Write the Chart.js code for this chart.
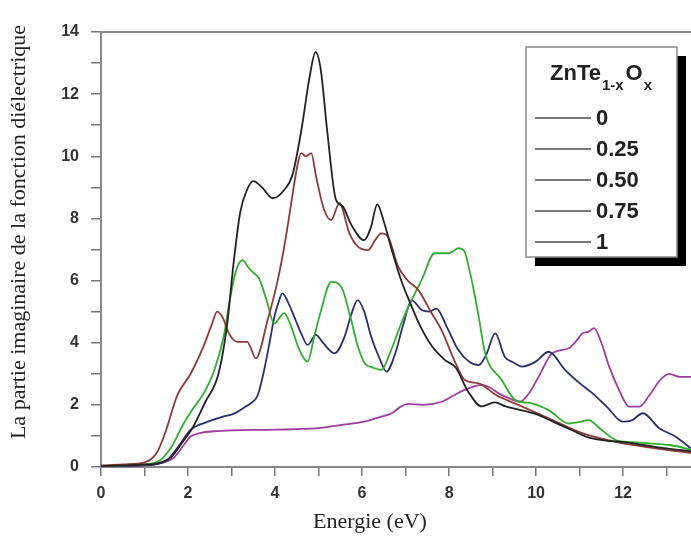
<!DOCTYPE html>
<html>
<head>
<meta charset="utf-8">
<script src="https://cdn.jsdelivr.net/npm/chart.js@4/dist/chart.umd.min.js"></script>
<style>
  html,body{margin:0;padding:0;background:#fff;}
  #wrap{width:691px;height:540px;position:relative;}
</style>
</head>
<body>
<div id="wrap"><canvas id="c" width="691" height="540"></canvas></div>
<script>
// x = composition of ZnTe(1-x)O(x)
const seriesLabels = ['0', '0.25', '0.50', '0.75', '1'];
const seriesColors = ['#222222', '#8c3a3a', '#2fae2f', '#2a2f6c', '#a03ca0'];

const energy0 = [0,0.5,1.0,1.3,1.6,1.9,2.1,2.4,2.7,2.9,3.05,3.2,3.35,3.5,3.7,3.95,4.2,4.4,4.6,4.8,4.93,5.05,5.2,5.4,5.55,5.75,6.05,6.2,6.35,6.5,6.7,6.9,7.1,7.35,7.6,7.9,8.15,8.45,8.75,9.05,9.3,9.6,10.0,10.4,10.8,11.2,11.6,12.0,12.5,13.0,13.6];
const eps0    = [0.03,0.05,0.08,0.12,0.3,0.85,1.25,2.1,3.0,4.6,6.6,8.2,8.9,9.2,9.0,8.65,8.9,9.4,10.8,12.6,13.35,12.8,10.8,8.6,8.4,7.8,7.3,7.7,8.45,7.9,6.9,6.0,5.3,4.5,3.9,3.45,3.2,2.4,1.95,2.08,1.95,1.85,1.7,1.45,1.2,0.95,0.85,0.8,0.7,0.6,0.5];

const energy25 = [0,0.5,1.0,1.15,1.3,1.5,1.75,2.06,2.36,2.55,2.67,2.8,2.94,3.13,3.36,3.56,3.83,4.06,4.2,4.36,4.5,4.6,4.71,4.83,4.95,5.13,5.29,5.48,5.71,5.9,6.14,6.3,6.44,6.6,6.83,7.05,7.29,7.6,7.83,8.13,8.36,8.68,9.1,9.51,10.29,11.06,11.83,12.5,13.0,13.6];
const eps25    = [0.05,0.08,0.15,0.25,0.5,1.2,2.3,3.0,3.9,4.6,5.0,4.8,4.3,4.03,4.03,3.5,4.73,6.0,7.0,8.38,9.6,10.1,10.0,10.1,9.3,8.27,7.95,8.49,7.52,7.1,6.98,7.3,7.52,7.4,6.45,6.0,5.7,4.95,4.4,3.4,2.8,2.69,2.3,2.05,1.57,1.09,0.81,0.65,0.55,0.45];

const energy50 = [0,0.5,1.0,1.36,1.6,1.9,2.1,2.36,2.6,2.82,2.95,3.1,3.25,3.4,3.52,3.63,3.8,3.98,4.21,4.35,4.55,4.75,4.9,5.05,5.29,5.52,5.75,5.9,6.06,6.25,6.44,6.65,6.9,7.15,7.37,7.67,7.98,8.1,8.21,8.35,8.45,8.58,8.68,8.83,9.21,9.52,9.9,10.29,10.75,11.0,11.2,11.5,11.83,12.2,12.6,13.1,13.6];
const eps50    = [0.03,0.05,0.08,0.22,0.6,1.4,1.85,2.37,3.1,4.2,5.3,6.3,6.66,6.4,6.23,6.08,5.4,4.62,4.95,4.6,3.8,3.39,4.2,5.0,5.96,5.8,4.73,3.9,3.34,3.2,3.12,3.7,4.62,5.4,6.02,6.88,6.88,6.95,7.04,6.95,6.45,5.6,4.84,3.66,2.8,2.16,2.05,1.83,1.4,1.45,1.51,1.2,0.87,0.8,0.76,0.7,0.55];

const energy75 = [0,0.5,1.0,1.3,1.52,1.8,2.06,2.44,2.8,3.06,3.3,3.44,3.6,3.75,3.9,3.98,4.08,4.17,4.3,4.44,4.6,4.75,4.94,5.1,5.37,5.6,5.75,5.9,6.05,6.21,6.4,6.56,6.75,6.95,7.14,7.37,7.55,7.71,7.95,8.21,8.45,8.68,8.85,9.06,9.28,9.5,9.68,10.0,10.29,10.67,11.0,11.3,11.65,11.99,12.2,12.45,12.83,13.2,13.6];
const eps75    = [0.02,0.04,0.06,0.1,0.22,0.7,1.2,1.45,1.62,1.72,1.92,2.05,2.3,3.12,4.2,4.8,5.3,5.59,5.3,4.84,4.3,3.93,4.25,4.0,3.66,4.2,4.9,5.37,5.0,4.19,3.5,3.07,3.6,4.6,5.37,5.05,5.0,5.1,4.5,3.77,3.4,3.28,3.6,4.3,3.55,3.35,3.23,3.4,3.71,3.12,2.7,2.37,1.9,1.46,1.5,1.73,1.25,0.98,0.55];

const energy100 = [0,0.5,1.0,1.3,1.67,1.9,2.06,2.3,2.6,3.0,4.0,5.0,5.5,6.05,6.44,6.67,6.9,7.06,7.4,7.83,8.1,8.36,8.75,8.95,9.14,9.4,9.63,9.85,10.06,10.37,10.75,10.95,11.06,11.2,11.33,11.5,11.68,11.9,12.14,12.37,12.6,12.85,13.06,13.3,13.6];
const eps100    = [0.02,0.03,0.05,0.1,0.3,0.7,0.98,1.1,1.15,1.18,1.2,1.25,1.35,1.46,1.62,1.72,1.95,2.03,2.0,2.1,2.3,2.48,2.64,2.55,2.37,2.2,2.1,2.4,2.91,3.66,3.82,4.1,4.3,4.35,4.47,4.0,3.23,2.5,1.94,1.94,2.3,2.8,3.0,2.9,2.9];

const energies = [energy0, energy25, energy50, energy75, energy100];
const values = [eps0, eps25, eps50, eps75, eps100];

const xMin = 0, xMax = 13.56, yMin = 0, yMax = 14;

function toPoints(xs, ys){
  return xs.map((x, i) => ({x: x, y: ys[i]}));
}

const tickFont = {family: 'Liberation Sans, Arial, sans-serif', size: 16, weight: 'bold'};

const frame = {
  id: 'frame',
  afterDraw(chart){
    const ctx = chart.ctx, a = chart.chartArea;
    ctx.save();
    // top border
    ctx.strokeStyle = '#888';
    ctx.lineWidth = 2;
    ctx.beginPath();
    ctx.moveTo(a.left, a.top);
    ctx.lineTo(chart.width, a.top);
    ctx.stroke();

    // axis titles
    ctx.fillStyle = '#222';
    ctx.font = '22px "Liberation Serif", "Times New Roman", serif';
    ctx.textAlign = 'center';
    ctx.textBaseline = 'middle';
    ctx.fillText('Energie (eV)', 370, 522);
    ctx.translate(19, 232);
    ctx.rotate(-Math.PI/2);
    ctx.fillText('La partie imaginaire de la fonction diélectrique', 0, 0);
    ctx.restore();

    // legend box with shadow
    ctx.save();
    const bx = 526, by = 47, bw = 151, bh = 210;
    ctx.fillStyle = '#000';
    ctx.fillRect(bx + 9, by + 9, bw, bh);
    ctx.fillStyle = '#fff';
    ctx.fillRect(bx, by, bw, bh);
    ctx.strokeStyle = '#888';
    ctx.lineWidth = 1.5;
    ctx.strokeRect(bx, by, bw, bh);

    ctx.fillStyle = '#222';
    ctx.textAlign = 'left';
    ctx.textBaseline = 'alphabetic';
    let tx = 550;
    ctx.font = 'bold 22px "Liberation Sans", Arial, sans-serif';
    ctx.fillText('ZnTe', tx, 80);
    tx += ctx.measureText('ZnTe').width + 1;
    ctx.font = 'bold 15px "Liberation Sans", Arial, sans-serif';
    ctx.fillText('1-x', tx, 90);
    tx += ctx.measureText('1-x').width + 2;
    ctx.font = 'bold 22px "Liberation Sans", Arial, sans-serif';
    ctx.fillText('O', tx, 80);
    tx += ctx.measureText('O').width + 1;
    ctx.font = 'bold 15px "Liberation Sans", Arial, sans-serif';
    ctx.fillText('x', tx, 90);

    ctx.font = 'bold 22px "Liberation Sans", Arial, sans-serif';
    ctx.textBaseline = 'middle';
    ctx.strokeStyle = '#777';
    ctx.lineWidth = 2;
    seriesLabels.forEach((lab, i) => {
      const yy = 118 + i * 31;
      ctx.beginPath();
      ctx.moveTo(535, yy);
      ctx.lineTo(591, yy);
      ctx.stroke();
      ctx.fillText(lab, 596, yy + 1);
    });
    ctx.restore();
  }
};

new Chart(document.getElementById('c'), {
  type: 'line',
  data: {
    datasets: seriesLabels.map((lab, i) => ({
      label: lab,
      data: toPoints(energies[i], values[i]),
      borderColor: seriesColors[i],
      borderWidth: 1.8,
      pointRadius: 0,
      tension: 0.35,
      cubicInterpolationMode: 'monotone',
      fill: false
    }))
  },
  options: {
    responsive: false,
    animation: false,
    layout: {padding: {top: 32, left: 0, right: 0, bottom: 0}},
    plugins: {legend: {display: false}, tooltip: {enabled: false}},
    scales: {
      x: {
        type: 'linear',
        min: xMin, max: xMax,
        afterFit: s => { s.height = 73; },
        border: {color: '#888', width: 2},
        grid: {drawOnChartArea: false, drawTicks: true, tickLength: 9, color: '#777', lineWidth: 1.5},
        ticks: {
          stepSize: 1, includeBounds: false, autoSkip: false, maxRotation: 0,
          color: '#333', font: tickFont, padding: 8,
          callback: v => (v % 2 === 0 ? String(v) : '')
        }
      },
      y: {
        type: 'linear',
        min: yMin, max: yMax,
        afterFit: s => { s.width = 101; },
        border: {color: '#888', width: 2},
        grid: {drawOnChartArea: false, drawTicks: true, tickLength: 10, color: '#777', lineWidth: 1.5},
        ticks: {
          stepSize: 1, autoSkip: false,
          color: '#333', font: tickFont, padding: 12,
          callback: v => (v % 2 === 0 ? String(v) : '')
        }
      }
    }
  },
  plugins: [frame]
});
</script>
</body>
</html>
